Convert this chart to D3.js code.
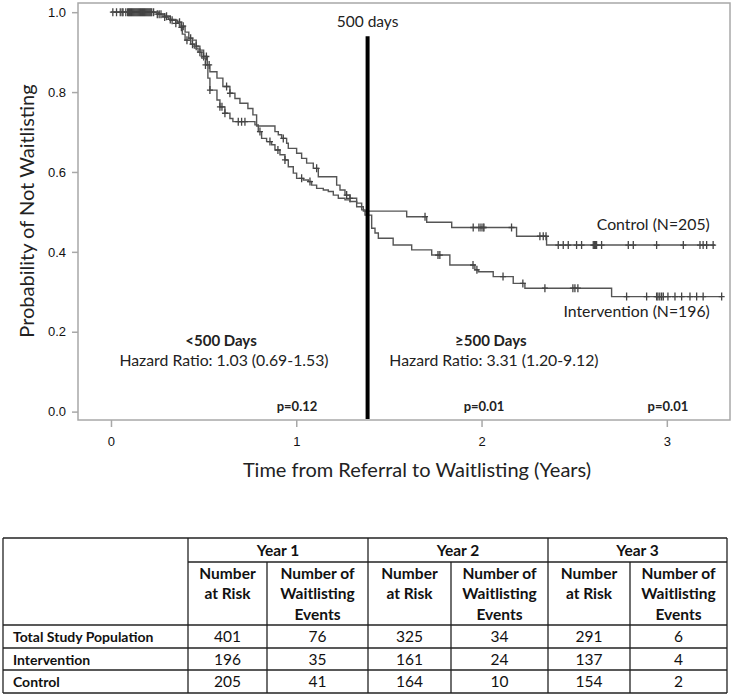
<!DOCTYPE html>
<html>
<head>
<meta charset="utf-8">
<script src="https://cdn.jsdelivr.net/npm/d3@7"></script>
<style>
  body { margin: 0; background: #fff; }
  svg { display: block; }
</style>
</head>
<body>
<svg id="chart" width="733" height="694"></svg>
<script>
// Kaplan-Meier steps: [years, probability after the step]
const interventionSteps = [
  [0, 1.0], [0.25, 0.995], [0.28, 0.99], [0.32, 0.98], [0.36, 0.975], [0.38, 0.965],
  [0.40, 0.95], [0.42, 0.935], [0.44, 0.93], [0.46, 0.915], [0.48, 0.905], [0.50, 0.889],
  [0.52, 0.868], [0.534, 0.851], [0.572, 0.835], [0.604, 0.814], [0.642, 0.797],
  [0.669, 0.784], [0.696, 0.772], [0.739, 0.759], [0.766, 0.743], [0.786, 0.715],
  [0.885, 0.701], [0.903, 0.693], [0.921, 0.684], [0.948, 0.672], [0.957, 0.659],
  [1.002, 0.647], [1.029, 0.634], [1.056, 0.622], [1.092, 0.609], [1.119, 0.588],
  [1.218, 0.567], [1.236, 0.555], [1.263, 0.542], [1.290, 0.534], [1.326, 0.522],
  [1.353, 0.505], [1.371, 0.492], [1.407, 0.459], [1.425, 0.447], [1.443, 0.434],
  [1.523, 0.417], [1.623, 0.405], [1.731, 0.392], [1.829, 0.367], [1.964, 0.355],
  [1.982, 0.350], [2.063, 0.338], [2.171, 0.321], [2.234, 0.309], [2.702, 0.288]
];
const interventionEnd = 3.296;

const controlSteps = [
  [0, 1.0], [0.26, 0.995], [0.29, 0.988], [0.31, 0.982], [0.35, 0.972], [0.37, 0.962],
  [0.385, 0.945], [0.40, 0.93], [0.43, 0.92], [0.45, 0.91], [0.47, 0.90], [0.49, 0.885],
  [0.51, 0.868], [0.523, 0.835], [0.534, 0.805], [0.572, 0.780], [0.588, 0.763],
  [0.615, 0.747], [0.642, 0.734], [0.658, 0.726], [0.777, 0.718], [0.795, 0.701],
  [0.813, 0.684], [0.840, 0.676], [0.867, 0.668], [0.885, 0.655], [0.912, 0.643],
  [0.939, 0.630], [0.957, 0.613], [0.984, 0.597], [1.002, 0.584], [1.038, 0.580],
  [1.065, 0.576], [1.083, 0.567], [1.110, 0.559], [1.146, 0.555], [1.173, 0.551],
  [1.200, 0.542], [1.227, 0.534], [1.263, 0.530], [1.290, 0.526], [1.326, 0.513],
  [1.362, 0.502], [1.596, 0.488], [1.704, 0.474], [1.839, 0.461], [2.189, 0.439],
  [2.351, 0.417]
];
const controlEnd = 3.260;

// censoring times (years)
const interventionCensor = [
  0.01, 0.05, 0.065, 0.08, 0.09, 0.10, 0.11, 0.12, 0.13, 0.14, 0.15, 0.16, 0.17, 0.18,
  0.19, 0.20, 0.21, 0.22, 0.25, 0.27, 0.30, 0.33, 0.37, 0.39, 0.43, 0.46, 0.50, 0.515,
  0.53, 0.624, 0.642, 0.93, 1.11, 1.272, 1.29, 1.765, 1.775, 1.954, 1.975, 2.116, 2.223,
  2.342, 2.493, 2.504, 2.52, 2.783, 2.891, 2.945, 2.952, 2.962, 2.972, 2.981, 3.006,
  3.044, 3.08, 3.125, 3.161, 3.196, 3.296
];
const controlCensor = [
  0.03, 0.06, 0.095, 0.105, 0.115, 0.125, 0.135, 0.145, 0.155, 0.165, 0.175, 0.185,
  0.195, 0.205, 0.215, 0.23, 0.26, 0.29, 0.32, 0.35, 0.38, 0.41, 0.44, 0.48, 0.51,
  0.534, 0.588, 0.599, 0.615, 0.687, 0.705, 0.723, 0.804, 0.858, 0.901, 0.939, 1.029,
  1.074, 1.695, 1.955, 1.986, 1.997, 2.008, 2.013, 2.162, 2.315, 2.333, 2.348, 2.414,
  2.441, 2.468, 2.513, 2.54, 2.603, 2.609, 2.615, 2.621, 2.648, 2.792, 2.819, 2.945,
  3.089, 3.179, 3.196, 3.215, 3.25
];

const xTicks = [0, 1, 2, 3];
const yTicks = [0.0, 0.2, 0.4, 0.6, 0.8, 1.0];
const cutYears = 1.385; // 500 days line as drawn

// table
const tableYears = ["Year 1", "Year 2", "Year 3"];
const rowLabels = ["Total Study Population", "Intervention", "Control"];
const atRisk = [[401, 325, 291], [196, 161, 137], [205, 164, 154]];
const events = [[76, 34, 6], [35, 24, 4], [41, 10, 2]];

const svg = d3.select("#chart");
const font = "Lato, 'Open Sans', sans-serif";

const x = d3.scaleLinear().domain([-0.178, 3.341]).range([78, 730]);
const y = d3.scaleLinear().domain([-0.021, 1.023]).range([420, 3]);

// frame
svg.append("rect")
  .attr("x", 78).attr("y", 3)
  .attr("width", 652).attr("height", 417)
  .attr("fill", "none").attr("stroke", "#a8a8a8").attr("stroke-width", 1.5);

// axes
const yAxis = svg.append("g")
  .attr("transform", "translate(78,0)")
  .call(d3.axisLeft(y).tickValues(yTicks).tickFormat(d3.format(".1f")).tickSize(6).tickPadding(6));
const xAxis = svg.append("g")
  .attr("transform", "translate(0,420)")
  .call(d3.axisBottom(x).tickValues(xTicks).tickFormat(d3.format("d")).tickSize(7).tickPadding(10));
[xAxis, yAxis].forEach(a => {
  a.select(".domain").remove();
  a.selectAll(".tick line").attr("stroke", "#a8a8a8").attr("stroke-width", 1.5);
  a.selectAll(".tick text")
    .attr("font-family", "'Liberation Sans', Arial, sans-serif")
    .attr("font-size", 13).attr("fill", "#111");
});

svg.append("text")
  .attr("transform", "translate(34,211) rotate(-90)")
  .attr("text-anchor", "middle")
  .attr("font-family", font).attr("font-size", 20).attr("fill", "#222")
  .text("Probability of Not Waitlisting");

svg.append("text")
  .attr("x", 417).attr("y", 477)
  .attr("text-anchor", "middle")
  .attr("font-family", font).attr("font-size", 20).attr("fill", "#222")
  .text("Time from Referral to Waitlisting (Years)");

// curves
const line = d3.line()
  .x(d => x(d[0])).y(d => y(d[1]))
  .curve(d3.curveStepAfter);

function survAt(steps, t) {
  let p = steps[0][1];
  for (const s of steps) if (s[0] <= t) p = s[1];
  return p;
}

const series = [
  { steps: interventionSteps, end: interventionEnd, censor: interventionCensor },
  { steps: controlSteps, end: controlEnd, censor: controlCensor }
];

series.forEach(s => {
  const pts = s.steps.concat([[s.end, s.steps[s.steps.length - 1][1]]]);
  svg.append("path")
    .attr("d", line(pts))
    .attr("fill", "none").attr("stroke", "#555").attr("stroke-width", 1.4);

  svg.append("g").selectAll("path")
    .data(s.censor)
    .join("path")
    .attr("d", t => {
      const cx = x(t), cy = y(survAt(s.steps, t));
      return `M${cx - 3},${cy}H${cx + 3}M${cx},${cy - 4}V${cy + 4}`;
    })
    .attr("stroke", "#444").attr("stroke-width", 1.3);
});

// 500 day cut
svg.append("line")
  .attr("x1", x(cutYears)).attr("x2", x(cutYears))
  .attr("y1", y(0.94)).attr("y2", 419)
  .attr("stroke", "#000").attr("stroke-width", 4);

// annotations
const notes = [
  { t: cutYears, p: 0.963, text: "500 days", anchor: "middle", size: 15.5, weight: "normal" },
  { t: 0.594, p: 0.164, text: "<500 Days", anchor: "middle", size: 15, weight: "bold" },
  { t: 0.61, p: 0.114, text: "Hazard Ratio: 1.03 (0.69-1.53)", anchor: "middle", size: 15.8, weight: "normal" },
  { t: 1.004, p: 0.002, text: "p=0.12", anchor: "middle", size: 13, weight: "bold" },
  { t: 2.05, p: 0.164, text: "\u2265500 Days", anchor: "middle", size: 15, weight: "bold" },
  { t: 2.067, p: 0.114, text: "Hazard Ratio: 3.31 (1.20-9.12)", anchor: "middle", size: 15.8, weight: "normal" },
  { t: 2.013, p: 0.002, text: "p=0.01", anchor: "middle", size: 13, weight: "bold" },
  { t: 3.006, p: 0.002, text: "p=0.01", anchor: "middle", size: 13, weight: "bold" },
  { t: 3.232, p: 0.455, text: "Control (N=205)", anchor: "end", size: 15.8, weight: "normal" },
  { t: 3.232, p: 0.237, text: "Intervention (N=196)", anchor: "end", size: 15.8, weight: "normal" }
];
svg.append("g").selectAll("text")
  .data(notes)
  .join("text")
  .attr("x", d => x(d.t)).attr("y", d => y(d.p))
  .attr("text-anchor", d => d.anchor)
  .attr("font-family", font)
  .attr("font-size", d => d.size)
  .attr("font-weight", d => d.weight)
  .attr("fill", "#222")
  .text(d => d.text);

// table
const cols = [3, 188, 267, 368, 451, 548, 630, 727];
const rows = [538, 562, 625, 648, 670, 693];
const tbl = svg.append("g")
  .attr("stroke", "#222").attr("stroke-width", 1.3)
  .attr("font-family", font).attr("fill", "#111");

// horizontal lines
tbl.append("line").attr("x1", cols[0]).attr("x2", cols[7]).attr("y1", rows[0]).attr("y2", rows[0]);
tbl.append("line").attr("x1", cols[1]).attr("x2", cols[7]).attr("y1", rows[1]).attr("y2", rows[1]);
rows.slice(2).forEach(r => {
  tbl.append("line").attr("x1", cols[0]).attr("x2", cols[7]).attr("y1", r).attr("y2", r);
});
// vertical lines
cols.forEach((c, i) => {
  const top = (i === 0 || i === 1 || i === 3 || i === 5 || i === 7) ? rows[0] : rows[1];
  tbl.append("line").attr("x1", c).attr("x2", c).attr("y1", top).attr("y2", rows[5]);
});

const txt = tbl.append("g").attr("stroke", "none").attr("text-anchor", "middle").attr("font-size", 15.5);

tableYears.forEach((yr, i) => {
  const c0 = cols[1 + i * 2], c1 = cols[2 + i * 2], c2 = cols[3 + i * 2];
  txt.append("text").attr("x", (c0 + c2) / 2).attr("y", 555.5)
    .attr("font-weight", "bold").text(yr);
  const riskHead = ["Number", "at Risk"];
  const evHead = ["Number of", "Waitlisting", "Events"];
  riskHead.forEach((s, k) => {
    txt.append("text").attr("x", (c0 + c1) / 2).attr("y", 578.5 + k * 20.5)
      .attr("font-weight", "bold").text(s);
  });
  evHead.forEach((s, k) => {
    txt.append("text").attr("x", (c1 + c2) / 2).attr("y", 578.5 + k * 20.5)
      .attr("font-weight", "bold").text(s);
  });
  rowLabels.forEach((lab, r) => {
    const base = (rows[2 + r] + rows[3 + r]) / 2 + 5.5;
    txt.append("text").attr("x", (c0 + c1) / 2).attr("y", base).text(atRisk[r][i]);
    txt.append("text").attr("x", (c1 + c2) / 2).attr("y", base).text(events[r][i]);
  });
});

rowLabels.forEach((lab, r) => {
  txt.append("text")
    .attr("x", 13).attr("y", (rows[2 + r] + rows[3 + r]) / 2 + 5.5)
    .attr("text-anchor", "start").attr("font-weight", "bold")
    .attr("font-size", 14)
    .text(lab);
});
</script>
</body>
</html>
